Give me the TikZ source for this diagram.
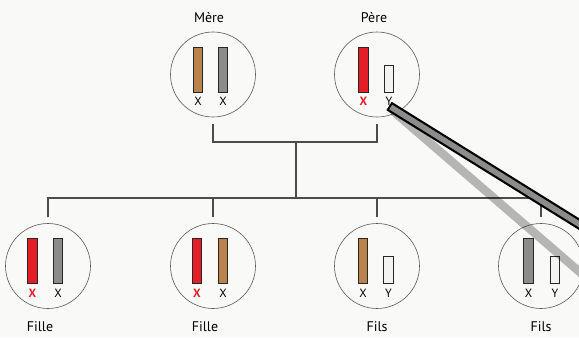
\documentclass[tikz,border=0pt]{standalone}
\usepackage{fontspec}
\setmainfont{PT Sans}
\usetikzlibrary{positioning}

\definecolor{paper}{RGB}{249,249,247}
\definecolor{xred}{RGB}{228,30,38}
\definecolor{xbrown}{RGB}{186,131,76}
\definecolor{xgrey}{RGB}{140,140,140}
\definecolor{yfill}{RGB}{243,243,243}

\begin{document}
\begin{tikzpicture}[x=1bp, y=1bp,
	cell/.style={circle, draw=black!65, line width=0.6bp, minimum size=85bp,
		inner sep=0pt, outer sep=6.5bp},
	chromx/.style={draw=black!85, line width=0.9bp, minimum width=9.5bp,
		minimum height=45bp, inner sep=0pt},
	chromy/.style={chromx, minimum height=27bp, fill=yfill},
	gene/.style={anchor=north, inner sep=4.5bp, font=\fontsize{12}{13}\selectfont},
	redgene/.style={gene, text=xred, font=\bfseries\fontsize{12}{13}\selectfont},
	title/.style={inner sep=2bp, font=\fontsize{14}{16}\selectfont},
	link/.style={draw=black!70, line width=1.1bp}]
	
	\useasboundingbox (0,0) rectangle (579,337);
	\fill [paper] (0,0) rectangle (579,337);
	
	% parents
	\node [cell] (mere) at (213,262.5) {};
	\node [title, above=1bp of mere, xshift=-4bp] (mere-t) {Mère};
	\node [chromx, fill=xbrown] (mere-a) at ([shift={(-15,5)}]mere.center) {};
	\node [chromx, fill=xgrey] (mere-b) at ([shift={(10,5)}]mere.center) {};
	\node [gene] (mere-ga) at (mere-a.south) {X};
	\node [gene] (mere-gb) at (mere-b.south) {X};
	
	\node [cell] (pere) at (377,262.5) {};
	\node [title, above=1bp of pere, xshift=-3bp] (pere-t) {Père};
	\node [chromx, fill=xred] (pere-a) at ([shift={(-13.5,5)}]pere.center) {};
	\node [chromy] (pere-b) at ([shift={(12,-4)}]pere.center) {};
	\node [redgene] (pere-ga) at (pere-a.south) {X};
	\node [gene] (pere-gb) at (pere-b.south) {Y};
	
	% children
	\node [cell] (fille1) at (48,71) {};
	\node [title, below=4bp of fille1, xshift=-8bp] (fille1-t) {Fille};
	\node [chromx, fill=xred] (fille1-a) at ([shift={(-15.5,5)}]fille1.center) {};
	\node [chromx, fill=xgrey] (fille1-b) at ([shift={(10,5)}]fille1.center) {};
	\node [redgene] (fille1-ga) at (fille1-a.south) {X};
	\node [gene] (fille1-gb) at (fille1-b.south) {X};
	
	\node [cell] (fille2) at (213,71) {};
	\node [title, below=4bp of fille2, xshift=-8bp] (fille2-t) {Fille};
	\node [chromx, fill=xred] (fille2-a) at ([shift={(-16,5)}]fille2.center) {};
	\node [chromx, fill=xbrown] (fille2-b) at ([shift={(10,5)}]fille2.center) {};
	\node [redgene] (fille2-ga) at (fille2-a.south) {X};
	\node [gene] (fille2-gb) at (fille2-b.south) {X};
	
	\node [cell] (fils1) at (377,71) {};
	\node [title, below=4bp of fils1] (fils1-t) {Fils};
	\node [chromx, fill=xbrown] (fils1-a) at ([shift={(-14,5)}]fils1.center) {};
	\node [chromy] (fils1-b) at ([shift={(11.5,-4)}]fils1.center) {};
	\node [gene] (fils1-ga) at (fils1-a.south) {X};
	\node [gene] (fils1-gb) at (fils1-b.south) {Y};
	
	\node [cell] (fils2) at (541,71) {};
	\node [title, below=4bp of fils2] (fils2-t) {Fils};
	\node [chromx, fill=xgrey] (fils2-a) at ([shift={(-12.5,5)}]fils2.center) {};
	\node [chromy] (fils2-b) at ([shift={(14,-4)}]fils2.center) {};
	\node [gene] (fils2-ga) at (fils2-a.south) {X};
	\node [gene] (fils2-gb) at (fils2-b.south) {Y};
	
	% family tree
	\coordinate (parents) at (296,195);
	\coordinate (kids) at (296,139);
	\draw [link] (mere.south) |- (parents) -| (pere.south);
	\draw [link] (parents) -- (kids);
	\draw [link] (fille1.north) |- (kids) -| (fils2.north);
	\draw [link] (fille2.north) -- (fille2.north |- kids);
	\draw [link] (fils1.north) -- (fils1.north |- kids);
	
	% pointer and its shadow
	\begin{scope}
		\clip (0,0) rectangle (579,337);
		\coordinate (tip) at (389,231);
		\coordinate (grip) at (640,75);
		\coordinate (shade-a) at (393,226);
		\coordinate (shade-b) at (640,13);
		\draw [black, opacity=0.27, line width=8.5bp] (shade-a) -- (shade-b);
		\draw [black, line width=10bp] (tip) -- (grip);
		\draw [xgrey, line width=5.6bp, shorten <=2bp] (tip) -- (grip);
	\end{scope}
\end{tikzpicture}
\end{document}
